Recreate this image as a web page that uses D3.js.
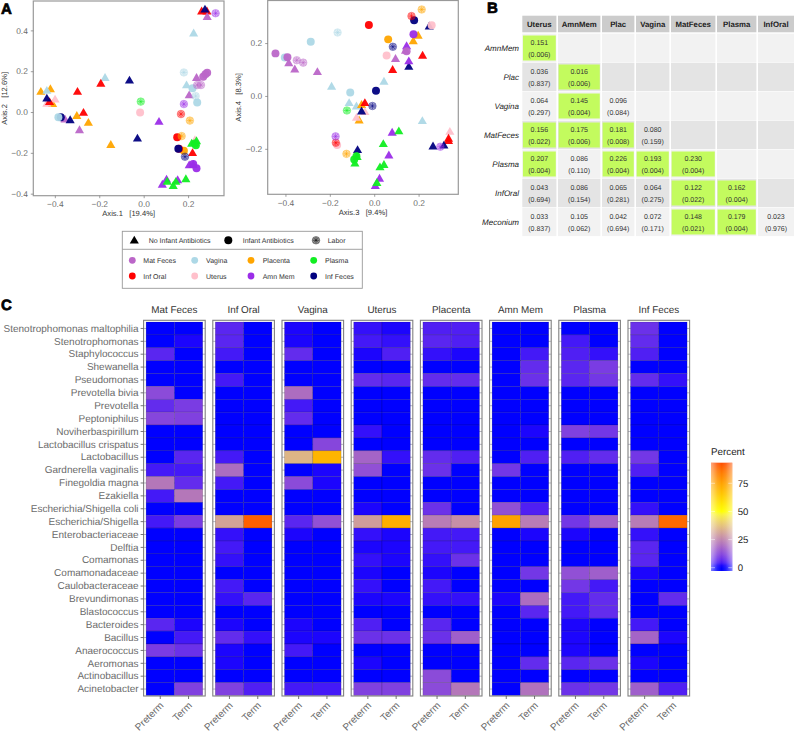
<!DOCTYPE html>
<html><head><meta charset="utf-8">
<script src="https://cdn.jsdelivr.net/npm/d3@7/dist/d3.min.js"></script>
<style>html,body{margin:0;padding:0;background:#fff}svg{display:block;font-family:"Liberation Sans",Arial,sans-serif;text-rendering:geometricPrecision}</style>
</head><body><svg id="c" width="794" height="733"></svg>
<script>
// ---------- Panel A data: [group, x, y, kind]; kind T = no infant antibiotics, C = infant antibiotics, L = labor
const groups = ["Mat Feces","Vagina","Placenta","Plasma","Inf Oral","Uterus","Amn Mem","Inf Feces"];
const groupColors = ["#bb66c8","#add8e6","#ffa500","#11ee22","#ff0000","#ffc0cb","#9b2de8","#000080"];
const kinds = ["No Infant Antibiotics","Infant Antibiotics","Labor"];
const pcoa12 = [
["Placenta",-0.463,0.100,"T"],["Placenta",-0.420,0.113,"T"],["Placenta",-0.410,0.040,"T"],["Placenta",-0.301,-0.018,"T"],["Placenta",-0.249,-0.052,"T"],["Placenta",-0.148,-0.160,"T"],
["Vagina",0.225,0.386,"T"],["Vagina",-0.174,0.168,"T"],["Vagina",0.193,0.132,"T"],["Vagina",-0.436,0.105,"T"],
["Uterus",-0.399,0.062,"T"],["Uterus",-0.436,0.042,"T"],["Uterus",0.231,-0.137,"T"],
["Inf Oral",0.261,0.494,"T"],["Inf Oral",0.285,0.494,"T"],["Inf Oral",-0.298,0.100,"T"],["Inf Oral",-0.193,0.140,"T"],["Inf Oral",-0.271,-0.003,"T"],["Inf Oral",-0.424,0.050,"T"],["Inf Oral",0.220,-0.200,"T"],
["Mat Feces",0.286,0.467,"T"],["Mat Feces",0.238,0.168,"T"],["Mat Feces",0.205,0.083,"T"],["Mat Feces",-0.289,-0.088,"T"],["Mat Feces",-0.354,-0.036,"T"],
["Amn Mem",0.069,-0.047,"T"],["Amn Mem",0.103,-0.330,"T"],["Amn Mem",0.084,-0.355,"T"],["Amn Mem",0.153,-0.333,"T"],["Amn Mem",0.205,-0.260,"T"],["Amn Mem",0.223,-0.258,"T"],
["Plasma",0.106,-0.340,"T"],["Plasma",0.133,-0.361,"T"],["Plasma",0.145,-0.341,"T"],["Plasma",0.190,-0.328,"T"],["Plasma",0.216,-0.154,"T"],["Plasma",0.238,-0.142,"T"],
["Inf Feces",0.276,0.503,"T"],["Inf Feces",-0.064,0.155,"T"],["Inf Feces",-0.436,0.067,"T"],["Inf Feces",-0.331,-0.039,"T"],["Inf Feces",-0.028,-0.129,"T"],
["Mat Feces",0.286,0.193,"C"],["Mat Feces",0.268,0.173,"C"],["Mat Feces",0.278,0.185,"C"],
["Vagina",0.220,0.116,"C"],["Vagina",0.241,0.047,"C"],["Inf Feces",-0.373,-0.026,"C"],["Vagina",-0.384,-0.026,"C"],
["Uterus",-0.016,-0.002,"C"],
["Placenta",0.181,-0.190,"C"],["Plasma",0.231,-0.154,"C"],["Plasma",0.235,-0.163,"C"],
["Inf Oral",0.151,-0.124,"C"],["Inf Oral",0.159,-0.180,"C"],["Inf Feces",0.156,-0.180,"C"],
["Amn Mem",0.223,-0.255,"C"],["Amn Mem",0.238,-0.276,"C"],
["Amn Mem",0.324,0.484,"L"],["Amn Mem",0.181,0.039,"L"],["Vagina",0.181,0.194,"L"],["Vagina",0.234,0.078,"L"],
["Mat Feces",0.241,0.132,"L"],["Mat Feces",0.258,0.132,"L"],["Plasma",-0.013,0.051,"L"],["Inf Oral",0.168,-0.010,"L"],
["Placenta",0.208,-0.042,"L"],["Placenta",0.171,-0.118,"L"],["Inf Feces",0.186,-0.219,"L"]
];
const pcoa34 = [
["Mat Feces",-0.385,0.125,"T"],["Mat Feces",-0.358,0.101,"T"],["Mat Feces",-0.256,0.091,"T"],["Mat Feces",0.096,0.141,"T"],["Mat Feces",0.141,0.172,"T"],
["Vagina",-0.192,0.036,"T"],["Vagina",0.044,0.055,"T"],["Vagina",-0.113,-0.026,"T"],["Vagina",-0.080,-0.039,"T"],["Vagina",0.217,-0.094,"T"],
["Placenta",0.198,0.229,"T"],["Placenta",0.176,0.208,"T"],["Placenta",-0.057,-0.033,"T"],["Placenta",-0.068,-0.092,"T"],
["Uterus",-0.080,-0.082,"T"],["Uterus",-0.042,-0.060,"T"],["Uterus",0.341,-0.135,"T"],
["Inf Oral",-0.042,-0.026,"T"],["Inf Oral",0.083,0.099,"T"],["Inf Oral",0.218,0.153,"T"],["Inf Oral",0.335,-0.161,"T"],["Inf Oral",0.335,-0.170,"T"],
["Inf Feces",0.248,0.264,"T"],["Inf Feces",0.156,0.111,"T"],["Inf Feces",-0.075,-0.204,"T"],["Inf Feces",0.265,-0.190,"T"],["Inf Feces",0.314,-0.187,"T"],["Inf Feces",-0.057,-0.058,"T"],
["Amn Mem",0.146,0.189,"T"],["Amn Mem",0.156,0.132,"T"],["Amn Mem",0.081,-0.138,"T"],["Amn Mem",0.066,-0.224,"T"],["Amn Mem",0.024,-0.312,"T"],["Amn Mem",0.005,-0.340,"T"],
["Plasma",0.111,-0.133,"T"],["Plasma",0.041,-0.181,"T"],["Plasma",0.044,-0.260,"T"],["Plasma",0.026,-0.269,"T"],["Plasma",0.012,-0.328,"T"],["Plasma",-0.087,-0.255,"T"],["Plasma",-0.077,-0.230,"T"],
["Vagina",-0.403,0.145,"C"],["Mat Feces",-0.445,0.161,"C"],["Mat Feces",-0.391,0.146,"C"],["Mat Feces",0.146,0.169,"C"],
["Vagina",-0.286,0.205,"C"],["Vagina",-0.108,0.013,"C"],["Placenta",0.063,0.214,"C"],
["Uterus",0.056,0.153,"C"],["Uterus",0.259,0.267,"C"],["Uterus",-0.167,-0.186,"C"],
["Inf Oral",-0.024,0.268,"C"],["Inf Feces",0.180,0.286,"C"],["Inf Feces",0.008,0.020,"C"],["Amn Mem",0.177,0.233,"C"],
["Plasma",-0.080,-0.228,"C"],["Plasma",-0.090,-0.240,"C"],
["Mat Feces",-0.349,0.135,"L"],["Mat Feces",-0.320,0.126,"L"],["Vagina",-0.165,0.240,"L"],
["Placenta",0.214,0.327,"L"],["Placenta",-0.125,-0.219,"L"],["Inf Oral",0.168,0.302,"L"],["Inf Oral",-0.173,-0.177,"L"],
["Inf Feces",0.084,0.186,"L"],["Inf Feces",-0.008,-0.038,"L"],["Plasma",-0.123,-0.055,"L"],["Amn Mem",-0.174,-0.153,"L"],["Amn Mem",0.298,-0.192,"L"]
];
const ticks12x=[-0.4,-0.2,0,0.2], ticks12y=[-0.4,-0.2,0,0.2,0.4], ticks34x=[-0.4,-0.2,0,0.2], ticks34y=[-0.2,0,0.2];

// ---------- Panel B data
const tableCols = ["Uterus","AmnMem","Plac","Vagina","MatFeces","Plasma","InfOral"];
const tableRows = ["AmnMem","Plac","Vagina","MatFeces","Plasma","InfOral","Meconium"];
const tableR = [
["0.151"],
["0.036","0.016"],
["0.064","0.145","0.096"],
["0.156","0.175","0.181","0.080"],
["0.207","0.086","0.226","0.193","0.230"],
["0.043","0.086","0.065","0.064","0.122","0.162"],
["0.033","0.105","0.042","0.072","0.148","0.179","0.023"]];
const tableP = [
["0.006"],
["0.837","0.006"],
["0.297","0.004","0.084"],
["0.022","0.006","0.008","0.159"],
["0.004","0.110","0.004","0.004","0.004"],
["0.694","0.154","0.281","0.275","0.022","0.004"],
["0.837","0.062","0.694","0.171","0.021","0.004","0.976"]];

// ---------- Panel C data
const taxa = ["Stenotrophomonas maltophilia","Stenotrophomonas","Staphylococcus","Shewanella","Pseudomonas","Prevotella bivia","Prevotella","Peptoniphilus","Noviherbaspirillum","Lactobacillus crispatus","Lactobacillus","Gardnerella vaginalis","Finegoldia magna","Ezakiella","Escherichia/Shigella coli","Escherichia/Shigella","Enterobacteriaceae","Delftia","Comamonas","Comamonadaceae","Caulobacteraceae","Brevundimonas","Blastococcus","Bacteroides","Bacillus","Anaerococcus","Aeromonas","Actinobacillus","Acinetobacter"];
const stages = ["Preterm","Term"];
const facets = ["Mat Feces","Inf Oral","Vagina","Uterus","Placenta","Amn Mem","Plasma","Inf Feces"];
const matFeces = [[0,1],[1,2],[6,0],[0,0],[0,1],[13,0],[7,10],[12,11],[0,0],[0,0],[0,6],[4,4],[22,7],[4,22],[0,0],[4,10],[0,1],[0,1],[0,1],[0,1],[0,0],[0,1],[0,0],[6,2],[0,4],[10,8],[0,1],[0,0],[0,11]];
const infOral = [[6,0],[6,0],[4,0],[1,0],[4,1],[1,0],[0,0],[0,0],[0,0],[0,0],[4,0],[20,0],[4,0],[0,0],[1,0],[31,90],[3,0],[4,0],[3,0],[1,0],[4,0],[3,6],[0,0],[2,0],[7,3],[2,0],[2,1],[0,0],[11,5]];
const vagina = [[2,0],[2,0],[7,0],[0,0],[1,0],[20,0],[4,0],[7,0],[0,0],[0,12],[35,70],[0,2],[13,2],[0,0],[1,0],[6,14],[2,0],[1,0],[0,0],[1,0],[1,0],[1,0],[0,0],[2,0],[2,2],[4,0],[0,0],[0,0],[4,4]];
const uterus = [[3,2],[4,3],[2,5],[0,1],[7,6],[0,0],[0,0],[0,0],[3,1],[0,1],[18,3],[14,0],[0,0],[0,0],[2,1],[30,72],[3,2],[2,2],[3,2],[2,1],[3,0],[2,2],[0,1],[5,0],[8,8],[0,1],[2,1],[0,1],[11,11]];
const placenta = [[5,5],[6,5],[3,2],[0,0],[7,7],[1,0],[0,0],[1,1],[1,1],[0,0],[7,5],[8,0],[0,1],[1,0],[8,1],[23,27],[4,4],[4,4],[3,8],[2,0],[4,0],[3,3],[0,0],[6,0],[8,17],[0,1],[1,1],[13,0],[13,22]];
const amnMem = [[0,0],[0,0],[0,4],[0,7],[0,8],[0,0],[0,0],[0,0],[0,2],[0,0],[0,5],[9,0],[0,0],[0,0],[14,5],[75,23],[0,2],[0,0],[0,0],[1,9],[0,1],[2,20],[1,6],[0,1],[0,0],[0,0],[1,7],[0,0],[0,21]];
const plasma = [[0,0],[4,1],[5,3],[6,10],[6,9],[0,0],[0,0],[0,0],[11,9],[0,0],[5,7],[0,0],[0,0],[0,0],[1,0],[9,18],[2,1],[0,0],[1,0],[14,17],[9,4],[4,7],[4,7],[2,1],[2,0],[2,0],[6,8],[0,0],[8,9]];
const infFeces = [[8,0],[7,0],[5,0],[1,0],[7,3],[0,0],[0,0],[0,0],[0,0],[0,0],[9,0],[5,0],[0,0],[0,0],[3,0],[23,88],[3,0],[6,0],[6,0],[2,0],[1,0],[1,7],[0,0],[4,0],[18,2],[0,0],[2,0],[0,0],[17,5]];
const facetValues = [matFeces,infOral,vagina,uterus,placenta,amnMem,plasma,infFeces];
const percentTicks = [0,25,50,75];

// ---------- Drawing
const svg = d3.select("#c");
const GREY="#6b6b6b", FONT='"Liberation Sans",Arial,sans-serif';
const color = d3.scaleOrdinal(groups, groupColors);
function letter(t,x,y){svg.append("text").text(t).attr("x",x).attr("y",y).attr("font-size",15).attr("font-weight",700).attr("fill","#000").attr("stroke","#000").attr("stroke-width",.7);}
letter("A",1,14); letter("B",487,13); letter("C",1,310);

function star(cx,cy,r){let d="";for(let k=0;k<4;k++){const a=k*Math.PI/4;const dx=r*Math.cos(a),dy=r*Math.sin(a);d+=`M${cx-dx},${cy-dy}L${cx+dx},${cy+dy}`;}return d;}
const triPath=d3.symbol(d3.symbolTriangle,36)(), circPath=d3.symbol(d3.symbolCircle,50)();
function drawMark(g,x,y,col,kind,op){
  if(kind==="T") g.append("path").attr("d",triPath).attr("transform",`translate(${x},${y+0.6})`).attr("fill",col).attr("opacity",op);
  else if(kind==="C") g.append("path").attr("d",circPath).attr("transform",`translate(${x},${y})`).attr("fill",col).attr("opacity",op);
  else {
    g.append("circle").attr("cx",x).attr("cy",y).attr("r",3.8).attr("fill",col).attr("fill-opacity",.38).attr("stroke",col).attr("stroke-opacity",.7).attr("stroke-width",.5);
    g.append("path").attr("d",star(x,y,3.1)).attr("stroke",col).attr("stroke-width",.6).attr("stroke-opacity",.85).attr("fill","none");
  }
}
function scatter(o){
  const x=d3.scaleLinear(o.xd,[o.l,o.r]), y=d3.scaleLinear(o.yd,[o.b,o.t]);
  const g=svg.append("g");
  g.append("rect").attr("x",o.l).attr("y",o.t).attr("width",o.r-o.l).attr("height",o.b-o.t).attr("fill","#fff");
  o.data.forEach(d=>drawMark(g,x(d[1]),y(d[2]),color(d[0]),d[3],.95));
  g.append("rect").attr("x",o.l).attr("y",o.t).attr("width",o.r-o.l).attr("height",o.b-o.t).attr("fill","none").attr("stroke","#999").attr("stroke-width",1.2);
  const fmt=v=>v===0?"0.0":d3.format(".1f")(v).replace("-","\u2212");
  const ax=g.append("g").attr("transform",`translate(0,${o.b})`).call(d3.axisBottom(x).tickValues(o.xt).tickSize(2.5).tickSizeOuter(0).tickFormat(fmt));
  const ay=g.append("g").attr("transform",`translate(${o.l},0)`).call(d3.axisLeft(y).tickValues(o.yt).tickSize(2.5).tickSizeOuter(0).tickFormat(fmt));
  [ax,ay].forEach(a=>{a.select(".domain").remove();a.selectAll("line").attr("stroke","#777").attr("stroke-width",.7);a.selectAll("text").attr("fill",GREY).attr("font-size",8.4).attr("font-family",FONT);});
  g.append("text").text(o.xlab).attr("x",(o.l+o.r)/2).attr("y",o.b+20.6).attr("text-anchor","middle").attr("font-size",7.6).attr("fill","#333").style("white-space","pre");
  g.append("text").text(o.ylab).attr("transform",`translate(${o.yx},${(o.t+o.b)/2}) rotate(-90)`).attr("text-anchor","middle").attr("font-size",7.6).attr("fill","#333").style("white-space","pre");
}
scatter({l:33.3,r:224,t:1,b:195.7,xd:[-0.497,0.3617],yd:[-0.41,0.544],data:pcoa12,xt:ticks12x,yt:ticks12y,xlab:"Axis.1   [19.4%]",ylab:"Axis.2   [12.6%]",yx:7});
scatter({l:267.7,r:458.3,t:0.5,b:194.3,xd:[-0.48,0.379],yd:[-0.372,0.361],data:pcoa34,xt:ticks34x,yt:ticks34y,xlab:"Axis.3   [9.4%]",ylab:"Axis.4   [8.3%]",yx:241});

// Legend of panel A
const leg=svg.append("g");
leg.append("rect").attr("x",122.3).attr("y",231.3).attr("width",240).attr("height",57).attr("fill","#fff").attr("stroke","#999").attr("stroke-width",.9);
leg.append("line").attr("x1",122.3).attr("x2",362.3).attr("y1",249.3).attr("y2",249.3).attr("stroke","#999").attr("stroke-width",.9);
const kindMark=["T","C","L"], kindX=[134.3,228.3,316], kindTx=[148.7,242.7,327.7];
kinds.forEach((k,i)=>{
  drawMark(leg,kindX[i],240.3,"#000",kindMark[i],1);
  leg.append("text").text(k).attr("x",kindTx[i]).attr("y",243).attr("font-size",7).attr("fill","#333");
});
const legOrder=[["Mat Feces","Inf Oral"],["Vagina","Uterus"],["Placenta","Amn Mem"],["Plasma","Inf Feces"]];
const dotX=[132.3,194.7,251,313.7], dotTx=[143.3,206,262.7,325], legY=[260.3,276];
legOrder.forEach((pair,i)=>pair.forEach((g,j)=>{
  leg.append("circle").attr("cx",dotX[i]).attr("cy",legY[j]).attr("r",3.4).attr("fill",color(g));
  leg.append("text").text(g).attr("x",dotTx[i]).attr("y",legY[j]+2.6).attr("font-size",7).attr("fill","#333");
}));

// Panel B table
const colEdges=[522.3,558,602,636,671,717,758,794];
const rowTop=33.3, rowH=29;
const tb=svg.append("g");
tableCols.forEach((c,i)=>{
  const x0=colEdges[i], x1=colEdges[i+1]-(i===6?0:1.6);
  tb.append("rect").attr("x",x0).attr("y",15.7).attr("width",x1-x0).attr("height",16.6).attr("fill","#ccc");
  tb.append("text").text(c).attr("x",(x0+x1)/2).attr("y",27).attr("text-anchor","middle").attr("font-size",7.8).attr("font-weight",700).attr("fill","#222");
});
tableRows.forEach((r,j)=>{
  const y=rowTop+j*rowH+0.4;
  tb.append("text").text(r).attr("x",519).attr("y",y+17.4).attr("text-anchor","end").attr("font-size",8).attr("font-style","italic").attr("fill","#222");
  tableCols.forEach((c,i)=>{
    const x0=colEdges[i], x1=colEdges[i+1]-(i===6?0:1.6);
    tb.append("rect").attr("x",x0).attr("y",y).attr("width",x1-x0).attr("height",rowH-0.6).attr("fill",j%2? "#e4e4e4":"#f2f2f2");
    if(i<=j){
      const p=+tableP[j][i];
      if(p<0.05) tb.append("rect").attr("x",x0+0.6).attr("y",y+1.8).attr("width",x1-x0-1.2).attr("height",rowH-4).attr("fill","#c3fb5e");
      const cx=(x0+x1)/2;
      tb.append("text").text(tableR[j][i]).attr("x",cx).attr("y",y+11.6).attr("text-anchor","middle").attr("font-size",7).attr("fill","#333");
      tb.append("text").text("("+tableP[j][i]+")").attr("x",cx).attr("y",y+23.4).attr("text-anchor","middle").attr("font-size",7).attr("fill","#333");
    }
  });
});

// Panel C heat map
const heat=d3.scaleLinear([0,1.5,50,100],["#0000ff","#0000ff","#ffff00","#ff0000"]).interpolate(d3.interpolateLab).clamp(true);
const pTop=320.3,pBot=696,pW=61.6,pStep=69.2,pX0=143.6;
const y=d3.scaleBand(taxa,[322,695.5]);
facets.forEach((f,i)=>{
  const l=pX0+i*pStep, g=svg.append("g");
  const x=d3.scaleBand(stages,[l+2.5,l+pW-2.5]);
  g.append("rect").attr("x",l).attr("y",pTop).attr("width",pW).attr("height",pBot-pTop).attr("fill","#fff");
  taxa.forEach(t=>g.append("line").attr("x1",l).attr("x2",l+pW).attr("y1",y(t)+y.bandwidth()/2).attr("y2",y(t)+y.bandwidth()/2).attr("stroke","#b8b8c4").attr("stroke-width",1));
  facetValues[i].forEach((vals,j)=>vals.forEach((v,k)=>{
    g.append("rect").attr("x",x(stages[k])).attr("y",y(taxa[j])).attr("width",x.bandwidth()).attr("height",y.bandwidth()).attr("fill",heat(v)).attr("stroke","#000").attr("stroke-opacity",.24).attr("stroke-width",.6);
  }));
  g.append("rect").attr("x",l).attr("y",pTop).attr("width",pW).attr("height",pBot-pTop).attr("fill","none").attr("stroke","#808080").attr("stroke-width",1.1);
  g.append("text").text(f).attr("x",l+pW/2).attr("y",312.8).attr("text-anchor","middle").attr("font-size",9.9).attr("fill","#333");
  const ax=g.append("g").attr("transform",`translate(0,${pBot})`).call(d3.axisBottom(x).tickSize(3).tickSizeOuter(0));
  ax.select(".domain").remove();
  ax.selectAll("line").attr("stroke","#555").attr("stroke-width",.8);
  ax.selectAll("text").attr("fill",GREY).attr("font-size",10).attr("font-family",FONT).attr("text-anchor","end").attr("dy",0).attr("y",0)
    .attr("transform","translate(4,10) rotate(-45)");
  if(i===0){
    const ay=g.append("g").attr("transform",`translate(${l},0)`).call(d3.axisLeft(y).tickSize(3).tickSizeOuter(0));
    ay.select(".domain").remove();
    ay.selectAll("line").attr("stroke","#555").attr("stroke-width",.8);
    ay.selectAll("text").attr("fill",GREY).attr("font-size",10).attr("font-family",FONT).attr("x",-5);
  }
});

// Colour bar
const bar={x:711,w:21.3,t:462.7,b:571};
const by=d3.scaleLinear([0,75],[567.7,483.3]);
const defs=svg.append("defs"), lg=defs.append("linearGradient").attr("id","pc").attr("x1",0).attr("x2",0).attr("y1",1).attr("y2",0);
d3.range(0,41).forEach(i=>{const py=bar.b+(bar.t-bar.b)*i/40;lg.append("stop").attr("offset",i/40).attr("stop-color",heat(by.invert(py)));});
svg.append("rect").attr("x",bar.x).attr("y",bar.t).attr("width",bar.w).attr("height",bar.b-bar.t).attr("fill","url(#pc)");
const soft=defs.append("linearGradient").attr("id","soft");
[[0,.5],[.3,.12],[.5,0],[.7,.12],[1,.5]].forEach(s=>soft.append("stop").attr("offset",s[0]).attr("stop-color","#fff").attr("stop-opacity",s[1]));
svg.append("rect").attr("x",bar.x).attr("y",bar.t).attr("width",bar.w).attr("height",bar.b-bar.t).attr("fill","url(#soft)");
percentTicks.forEach(t=>{
  svg.append("line").attr("x1",bar.x).attr("x2",bar.x+4).attr("y1",by(t)).attr("y2",by(t)).attr("stroke","#fff").attr("stroke-width",.6).attr("stroke-opacity",.8);
  svg.append("line").attr("x1",bar.x+bar.w-4).attr("x2",bar.x+bar.w).attr("y1",by(t)).attr("y2",by(t)).attr("stroke","#fff").attr("stroke-width",.6).attr("stroke-opacity",.8);
  svg.append("text").text(t).attr("x",737.7).attr("y",by(t)+3.4).attr("font-size",9.6).attr("fill","#222");
});
svg.append("text").text("Percent").attr("x",711).attr("y",455).attr("font-size",9.8).attr("fill","#222");
</script></body></html>
